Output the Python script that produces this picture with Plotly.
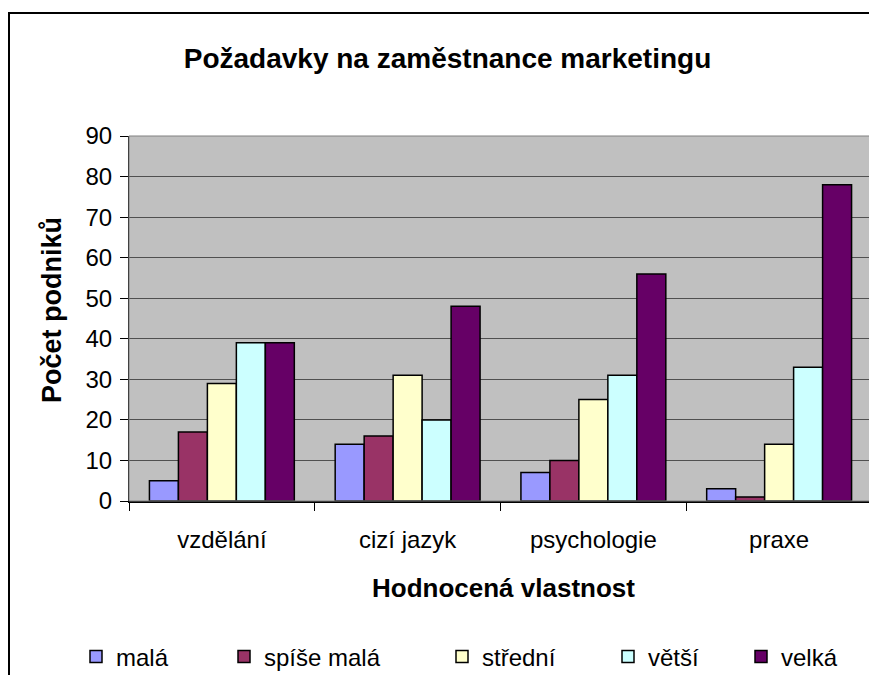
import plotly.graph_objects as go

categories = ["vzdělání", "cizí jazyk", "psychologie", "praxe"]
series_names = ["malá", "spíše malá", "střední", "větší", "velká"]
mala = [5, 14, 7, 3]
spise_mala = [17, 16, 10, 1]
stredni = [29, 31, 25, 14]
vetsi = [39, 20, 31, 33]
velka = [39, 48, 56, 78]
y_ticks = [0, 10, 20, 30, 40, 50, 60, 70, 80, 90]

series_values = [mala, spise_mala, stredni, vetsi, velka]
colors = ["#9999FF", "#993366", "#FFFFCC", "#CCFFFF", "#660066"]

# page body margin offsets the figure by 8px; design in reference pixels
OFF = 8
W, H = 877, 675
L = 129 - OFF
T = 136 - OFF
BOT = 501 - OFF
RGT = 872 - OFF
R = W - RGT
B = H - BOT
PW = RGT - L
PH = BOT - T


def px_x(p):
    return (p - OFF - L) / PW


def px_y(p):
    return (BOT - (p - OFF)) / PH


FONT = "Liberation Sans, Arial, sans-serif"

fig = go.Figure()
legend_centers = [96, 244, 462, 628, 761]
legend_ids = ["legend", "legend2", "legend3", "legend4", "legend5"]
for name, vals, col, lid in zip(series_names, series_values, colors, legend_ids):
    fig.add_trace(go.Bar(
        x=categories, y=vals, name=name, legend=lid,
        marker=dict(color=col, line=dict(color="black", width=1.5)),
    ))

layout_legends = {}
for lid, cx in zip(legend_ids, legend_centers):
    layout_legends[lid] = dict(
        x=px_x(cx - 20), y=px_y(657), xanchor="left", yanchor="middle",
        orientation="h", bgcolor="rgba(0,0,0,0)", borderwidth=0,
        font=dict(family=FONT, size=24, color="black"),
    )

fig.update_layout(
    width=W, height=H,
    margin=dict(l=L, r=R, t=T, b=B, pad=0, autoexpand=False),
    paper_bgcolor="white", plot_bgcolor="#C0C0C0",
    barmode="group", bargap=0.22, bargroupgap=0,
    showlegend=True,
    title=dict(text="<b>Požadavky na zaměstnance marketingu</b>",
               x=(447.5 - OFF) / W, y=1 - (58 - OFF) / H,
               xanchor="center", yanchor="middle",
               font=dict(family=FONT, size=28, color="black")),
    font=dict(family=FONT, size=24, color="black"),
    **layout_legends,
)

fig.update_xaxes(
    type="category", tickson="boundaries", ticks="outside", ticklen=8,
    tickcolor="black", tickwidth=1, showline=True, linecolor="black", linewidth=1.5,
    showgrid=False, ticklabelstandoff=16,
    tickfont=dict(family=FONT, size=24, color="black"),
)
fig.update_yaxes(
    range=[0, 90], tickvals=y_ticks, ticks="outside", ticklen=8,
    tickcolor="black", tickwidth=1, showline=True, linecolor="black", linewidth=1,
    showgrid=True, gridcolor="#505050", gridwidth=1, zeroline=False,
    ticklabelstandoff=3,
    tickfont=dict(family=FONT, size=24, color="black"),
)

# plot-area border (gray) and chart frame (black)
fig.add_shape(type="rect", xref="paper", yref="paper", x0=0, x1=1, y0=0, y1=1,
              line=dict(color="#808080", width=1), layer="above")
fig.add_shape(type="rect", xref="paper", yref="paper",
              x0=px_x(OFF + 1), x1=px_x(W + 40), y0=px_y(H + 40), y1=px_y(13),
              line=dict(color="black", width=2), layer="below")

fig.add_annotation(text="<b>Počet podniků</b>", xref="paper", yref="paper",
                   x=px_x(52), y=px_y(310), textangle=-90, showarrow=False,
                   xanchor="center", yanchor="middle",
                   font=dict(family=FONT, size=27, color="black"))
fig.add_annotation(text="<b>Hodnocená vlastnost</b>", xref="paper", yref="paper",
                   x=px_x(503), y=px_y(588), showarrow=False,
                   xanchor="center", yanchor="middle",
                   font=dict(family=FONT, size=26, color="black"))

fig.write_html("out.html")
